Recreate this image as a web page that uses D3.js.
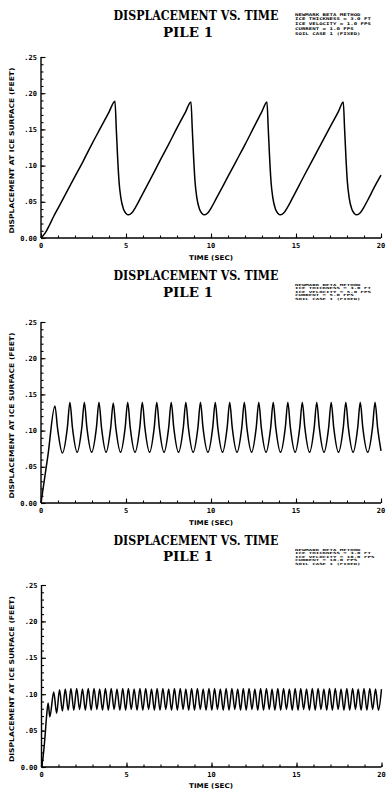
<!DOCTYPE html>
<html><head><meta charset="utf-8">
<script src="https://cdn.jsdelivr.net/npm/d3@7"></script>
<style>
html,body{margin:0;padding:0;background:#fff;}
svg{display:block;}
</style></head><body>
<script>
// ---------- text ----------
const chartTitle = "DISPLACEMENT VS. TIME";
const pileLabel = "PILE 1";
const xAxisTitle = "TIME (SEC)";
const yAxisTitle = "DISPLACEMENT AT ICE SURFACE (FEET)";
const timeTicks = [0, 5, 10, 15, 20];
const timeTickLabels = ["0", "5", "10", "15", "20"];
const dispTicks = [0, 0.05, 0.10, 0.15, 0.20, 0.25];
const dispTickLabels = ["0.00", ".05", ".10", ".15", ".20", ".25"];
const notes1 = ["NEWMARK BETA METHOD", "ICE THICKNESS = 3.0 FT", "ICE VELOCITY = 1.0 FPS", "CURRENT = 1.0 FPS", "SOIL CASE 1 (FIXED)"];
const notes2 = ["NEWMARK BETA METHOD", "ICE THICKNESS = 3.0 FT", "ICE VELOCITY = 5.0 FPS", "CURRENT = 5.0 FPS", "SOIL CASE 1 (FIXED)"];
const notes3 = ["NEWMARK BETA METHOD", "ICE THICKNESS = 3.0 FT", "ICE VELOCITY = 10.0 FPS", "CURRENT = 10.0 FPS", "SOIL CASE 1 (FIXED)"];

// ---------- panel 1 (time s, displacement ft) ----------
const time1 = [0, 0.25, 0.5, 0.75, 1.0, 1.5, 2.0, 2.5, 3.0, 3.5, 4.0, 4.35,
  4.43, 4.51, 4.59, 4.70, 4.85, 5.00, 5.15, 5.35, 5.55, 5.85, 6.5, 7.0, 7.5, 8.0, 8.5, 8.82,
  8.90, 8.98, 9.06, 9.17, 9.32, 9.47, 9.62, 9.82, 10.02, 10.32, 11.0, 11.5, 12.0, 12.5, 13.0, 13.29,
  13.37, 13.45, 13.53, 13.64, 13.79, 13.94, 14.09, 14.29, 14.49, 14.79, 15.5, 16.0, 16.5, 17.0, 17.5, 17.78,
  17.86, 17.94, 18.02, 18.13, 18.28, 18.43, 18.58, 18.78, 18.98, 19.28, 19.6, 20.0];
const disp1 = [0, 0.007, 0.018, 0.030, 0.041, 0.063, 0.085, 0.107, 0.130, 0.152, 0.174, 0.189,
  0.150, 0.110, 0.078, 0.055, 0.040, 0.034, 0.032, 0.035, 0.042, 0.055, 0.084, 0.107, 0.129, 0.152, 0.174, 0.188,
  0.150, 0.110, 0.078, 0.055, 0.040, 0.034, 0.032, 0.035, 0.042, 0.055, 0.085, 0.107, 0.129, 0.152, 0.175, 0.188,
  0.150, 0.110, 0.078, 0.055, 0.040, 0.034, 0.032, 0.035, 0.042, 0.055, 0.087, 0.109, 0.131, 0.153, 0.175, 0.188,
  0.150, 0.110, 0.078, 0.055, 0.040, 0.034, 0.032, 0.035, 0.042, 0.055, 0.070, 0.087];

// ---------- panel 2 ----------
const time2 = [0.00, 0.41, 0.82, 0.97, 1.26, 1.55, 1.70, 1.85, 2.13, 2.40, 2.55, 2.70, 2.98, 3.26, 3.41, 3.56,
  3.83, 4.10, 4.25, 4.40, 4.68, 4.95, 5.10, 5.25, 5.53, 5.81, 5.96, 6.11, 6.39, 6.66, 6.81, 6.96,
  7.24, 7.51, 7.66, 7.81, 8.09, 8.37, 8.52, 8.67, 8.95, 9.23, 9.38, 9.53, 9.82, 10.10, 10.25, 10.40,
  10.68, 10.95, 11.10, 11.25, 11.53, 11.81, 11.96, 12.11, 12.39, 12.66, 12.81, 12.96, 13.24, 13.51, 13.66, 13.81,
  14.09, 14.37, 14.52, 14.67, 14.95, 15.22, 15.37, 15.52, 15.80, 16.07, 16.22, 16.37, 16.65, 16.92, 17.07, 17.22,
  17.50, 17.78, 17.93, 18.08, 18.36, 18.63, 18.78, 18.93, 19.22, 19.50, 19.65, 19.80, 20.00];
const disp2 = [0.000, 0.066, 0.134, 0.104, 0.069, 0.104, 0.139, 0.104, 0.070, 0.104, 0.139, 0.104, 0.070, 0.104, 0.139, 0.104,
  0.070, 0.104, 0.138, 0.104, 0.070, 0.104, 0.139, 0.104, 0.070, 0.104, 0.139, 0.104, 0.070, 0.104, 0.139, 0.104,
  0.070, 0.104, 0.139, 0.104, 0.070, 0.104, 0.139, 0.104, 0.070, 0.104, 0.139, 0.104, 0.070, 0.104, 0.139, 0.104,
  0.070, 0.104, 0.139, 0.104, 0.070, 0.104, 0.139, 0.104, 0.070, 0.104, 0.139, 0.104, 0.070, 0.104, 0.139, 0.104,
  0.070, 0.104, 0.139, 0.104, 0.070, 0.104, 0.139, 0.104, 0.070, 0.104, 0.139, 0.104, 0.070, 0.104, 0.139, 0.104,
  0.070, 0.104, 0.139, 0.104, 0.070, 0.104, 0.139, 0.104, 0.070, 0.104, 0.139, 0.104, 0.072];

// ---------- panel 3 ----------
const startTime3 = [0, 0.10, 0.20, 0.30, 0.39, 0.49];
const startDisp3 = [0, 0.015, 0.040, 0.070, 0.088, 0.069];
const peakTime3 = [0.72, 1.06, 1.40, 1.73, 2.07, 2.41, 2.75, 3.09, 3.42, 3.76, 4.10, 4.44, 4.78, 5.11, 5.45, 5.79,
  6.13, 6.47, 6.80, 7.14, 7.48, 7.82, 8.16, 8.49, 8.83, 9.17, 9.51, 9.85, 10.18, 10.52, 10.86, 11.20,
  11.54, 11.87, 12.21, 12.55, 12.89, 13.23, 13.56, 13.90, 14.24, 14.58, 14.92, 15.25, 15.59, 15.93, 16.27, 16.61,
  16.94, 17.28, 17.62, 17.96, 18.30, 18.63, 18.97, 19.31, 19.65, 20.00];
const peakDisp3 = [0.103, 0.106, 0.107, 0.108, 0.108, 0.107, 0.108, 0.108, 0.107, 0.108, 0.108, 0.107, 0.108, 0.108, 0.107, 0.108,
  0.108, 0.107, 0.108, 0.108, 0.107, 0.108, 0.108, 0.107, 0.108, 0.108, 0.107, 0.108, 0.108, 0.107, 0.108, 0.108,
  0.107, 0.108, 0.108, 0.107, 0.108, 0.108, 0.107, 0.108, 0.108, 0.107, 0.108, 0.108, 0.107, 0.108, 0.108, 0.107,
  0.108, 0.108, 0.107, 0.108, 0.108, 0.107, 0.108, 0.108, 0.107, 0.107];
const troughTime3 = [0.89, 1.23, 1.57, 1.90, 2.24, 2.58, 2.92, 3.26, 3.59, 3.93, 4.27, 4.61, 4.95, 5.28, 5.62, 5.96,
  6.30, 6.64, 6.97, 7.31, 7.65, 7.99, 8.33, 8.66, 9.00, 9.34, 9.68, 10.02, 10.35, 10.69, 11.03, 11.37,
  11.71, 12.04, 12.38, 12.72, 13.06, 13.40, 13.73, 14.07, 14.41, 14.75, 15.09, 15.42, 15.76, 16.10, 16.44, 16.78,
  17.11, 17.45, 17.79, 18.13, 18.47, 18.80, 19.14, 19.48, 19.82];
const troughDisp3 = [0.074, 0.077, 0.078, 0.078, 0.079, 0.078, 0.078, 0.079, 0.078, 0.078, 0.079, 0.078, 0.078, 0.079, 0.078, 0.078,
  0.079, 0.078, 0.078, 0.079, 0.078, 0.078, 0.079, 0.078, 0.078, 0.079, 0.078, 0.078, 0.079, 0.078, 0.078, 0.079,
  0.078, 0.078, 0.079, 0.078, 0.078, 0.079, 0.078, 0.078, 0.079, 0.078, 0.078, 0.079, 0.078, 0.078, 0.079, 0.078,
  0.078, 0.079, 0.078, 0.078, 0.079, 0.078, 0.078, 0.079, 0.078];

// ---------- build ----------
function zipPts(t, d) { const n = Math.min(t.length, d.length); const a = []; for (let i = 0; i < n; i++) a.push({t: t[i], d: d[i]}); return a; }
const series1 = zipPts(time1, disp1);
const series2 = zipPts(time2, disp2);
const series3 = zipPts(startTime3, startDisp3).concat(zipPts(peakTime3, peakDisp3), zipPts(troughTime3, troughDisp3)).sort((a, b) => a.t - b.t);

const W = 388, H = 791;
const svg = d3.select("body").append("svg").attr("width", W).attr("height", H);

const panels = [
  {data: series1, notes: notes1, x0: 41, x1: 381, y0: 238, y1: 57, titleY: 19.5, pileY: 37, noteY: 15.5, noteDy: 4.8, noteFs: 3.7, tickY: 248, xtY: 260},
  {data: series2, notes: notes2, x0: 41, x1: 381, y0: 503, y1: 322, titleY: 280, pileY: 297, noteY: 286, noteDy: 3.4, noteFs: 2.9, tickY: 513, xtY: 525},
  {data: series3, notes: notes3, x0: 41.5, x1: 381.5, y0: 767, y1: 585, titleY: 545, pileY: 561, noteY: 551, noteDy: 3.4, noteFs: 2.9, tickY: 777, xtY: 788}
];

const minorY = d3.range(0, 26).map(i => i / 100);
const minorX = d3.range(0, 21);

// text squeezed to a width through a real transform, so its box is true
function fitText(sel, cx, cy, width) {
  const natural = sel.node().getComputedTextLength() || width;
  sel.attr("transform", `translate(${cx},${cy}) scale(${width / natural},1)`);
}

panels.forEach(p => {
  const g = svg.append("g");
  const x = d3.scaleLinear().domain([0, 20]).range([p.x0, p.x1]);
  const y = d3.scaleLinear().domain([0, 0.25]).range([p.y0, p.y1]);

  // titles
  const t1 = g.append("text").attr("text-anchor", "middle")
    .attr("font-family", "'DejaVu Serif', serif").attr("font-weight", "bold").attr("font-size", 13).text(chartTitle);
  fitText(t1, 196, p.titleY, 165);
  const t2 = g.append("text").attr("text-anchor", "middle")
    .attr("font-family", "'DejaVu Serif', serif").attr("font-weight", "bold").attr("font-size", 12).text(pileLabel);
  fitText(t2, 188, p.pileY, 50);

  // notes
  g.append("g").selectAll("text").data(p.notes).join("text")
    .attr("x", 295).attr("y", (d, i) => p.noteY + i * p.noteDy)
    .attr("font-family", "'DejaVu Sans Mono', monospace").attr("font-weight", "bold").attr("font-size", p.noteFs)
    .attr("textLength", d => d.length * 3.45).attr("lengthAdjust", "spacingAndGlyphs")
    .text(d => d);

  // axes
  const ax = g.append("g").attr("stroke", "#000").attr("stroke-width", 1.4).attr("fill", "none");
  ax.append("line").attr("x1", x(0)).attr("x2", x(0)).attr("y1", y(0)).attr("y2", y(0.25));
  ax.append("line").attr("x1", x(0)).attr("x2", x(20)).attr("y1", y(0)).attr("y2", y(0));

  const yMinor = d3.axisRight(y).tickValues(minorY).tickSize(2.5).tickFormat("");
  const yMajor = d3.axisRight(y).tickValues(dispTicks).tickSize(4.5).tickFormat("");
  [yMinor, yMajor].forEach(a => {
    const gg = g.append("g").attr("transform", `translate(${x(0)},0)`).call(a);
    gg.select(".domain").remove();
    gg.selectAll("line").attr("stroke", "#000").attr("stroke-width", 1.1);
  });
  const xMinor = d3.axisTop(x).tickValues(minorX).tickSize(2.5).tickFormat("");
  const xMajor = d3.axisTop(x).tickValues(timeTicks).tickSize(4.5).tickFormat("");
  [xMinor, xMajor].forEach(a => {
    const gg = g.append("g").attr("transform", `translate(0,${y(0)})`).call(a);
    gg.select(".domain").remove();
    gg.selectAll("line").attr("stroke", "#000").attr("stroke-width", 1.1);
  });

  // tick labels
  g.append("g").selectAll("text").data(dispTicks).join("text")
    .attr("x", x(0) - 4).attr("y", d => y(d) + 2.5).attr("text-anchor", "end")
    .attr("font-family", "'DejaVu Sans Mono', monospace").attr("font-weight", "bold").attr("font-size", 7)
    .text((d, i) => dispTickLabels[i]);
  g.append("g").selectAll("text").data(timeTicks).join("text")
    .attr("x", d => x(d)).attr("y", p.tickY).attr("text-anchor", "middle")
    .attr("font-family", "'DejaVu Sans Mono', monospace").attr("font-weight", "bold").attr("font-size", 7)
    .text((d, i) => timeTickLabels[i]);

  // axis titles
  g.append("text").attr("x", 211).attr("y", p.xtY).attr("text-anchor", "middle")
    .attr("font-family", "'DejaVu Sans', sans-serif").attr("font-weight", "bold").attr("font-size", 6.5)
    .attr("textLength", 44).attr("lengthAdjust", "spacingAndGlyphs").text(xAxisTitle);
  const cy = (y(0) + y(0.25)) / 2 + 3;
  g.append("text").attr("transform", `translate(14,${cy}) rotate(-90)`).attr("text-anchor", "middle")
    .attr("font-family", "'DejaVu Sans', sans-serif").attr("font-weight", "bold").attr("font-size", 6.5)
    .attr("textLength", 166).attr("lengthAdjust", "spacingAndGlyphs").text(yAxisTitle);

  // series line
  const line = d3.line().x(d => x(d.t)).y(d => y(d.d)).curve(d3.curveMonotoneX);
  g.append("path").datum(p.data).attr("d", line)
    .attr("fill", "none").attr("stroke", "#000").attr("stroke-width", 1.5).attr("stroke-linejoin", "round");
});
</script>
</body></html>
